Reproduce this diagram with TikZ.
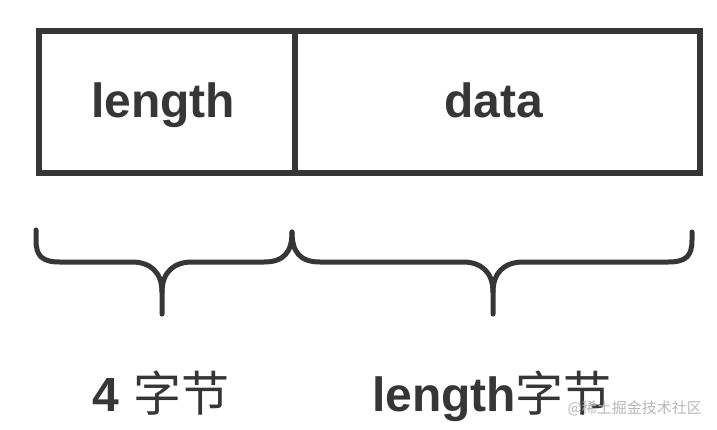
\documentclass[tikz,border=0pt]{standalone}
\usepackage{fontspec}
\setmainfont{Liberation Sans}
\newfontfamily\cjk{Noto Sans CJK SC}
\definecolor{ink}{HTML}{363636}
\definecolor{wm}{HTML}{B8B8B8}
\begin{document}
\begin{tikzpicture}[x=1pt,y=-1pt,
  cell/.style={draw=ink,line width=6pt,minimum height=142pt,inner sep=0pt,anchor=north west},
  celltext/.style={text=ink,font=\fontsize{48}{50}\selectfont\bfseries,anchor=base,inner sep=0pt},
  lbl/.style={text=ink,font=\fontsize{48}{50}\selectfont,anchor=base,inner sep=0pt},
  brace/.style={draw=ink,line width=5pt,line cap=round,line join=round}]
\useasboundingbox (0,0) rectangle (717,429);
\fill[white] (0,0) rectangle (717,429);
% boxes
\node[cell,minimum width=256pt] (lenbox) at (36,28) {};
\node[cell,minimum width=405pt] (databox) at (292,28) {};
\node[celltext] (lentext) at (163,117) {length};
\node[celltext] (datatext) at (494,117) {data};
% braces
\draw[brace] (36,230) -- (36,240) .. controls (36,256) and (42,262) .. (60,262) -- (132,262)
  .. controls (150,262) and (162,272) .. (162,292) -- (162,314);
\draw[brace] (162,292) .. controls (162,272) and (174,262) .. (192,262) -- (264,262)
  .. controls (284,262) and (292,252) .. (292,232);
\draw[brace] (292,232) .. controls (292,252) and (300,262) .. (320,262) -- (463,262)
  .. controls (481,262) and (493,272) .. (493,292) -- (493,314);
\draw[brace] (493,292) .. controls (493,272) and (505,262) .. (523,262) -- (668,262)
  .. controls (686,262) and (692,256) .. (692,240) -- (692,232);
% labels
\node[lbl] (l1) at (161,411) {{\bfseries 4} {\cjk 字节}};
\node[lbl] (l2) at (492,411) {{\bfseries length}{\cjk 字节}};
\node[text=wm,font=\cjk\fontsize{15}{16}\selectfont,anchor=base east,inner sep=0pt] (wm) at (702,413) {@稀土掘金技术社区};
\end{tikzpicture}
\end{document}
